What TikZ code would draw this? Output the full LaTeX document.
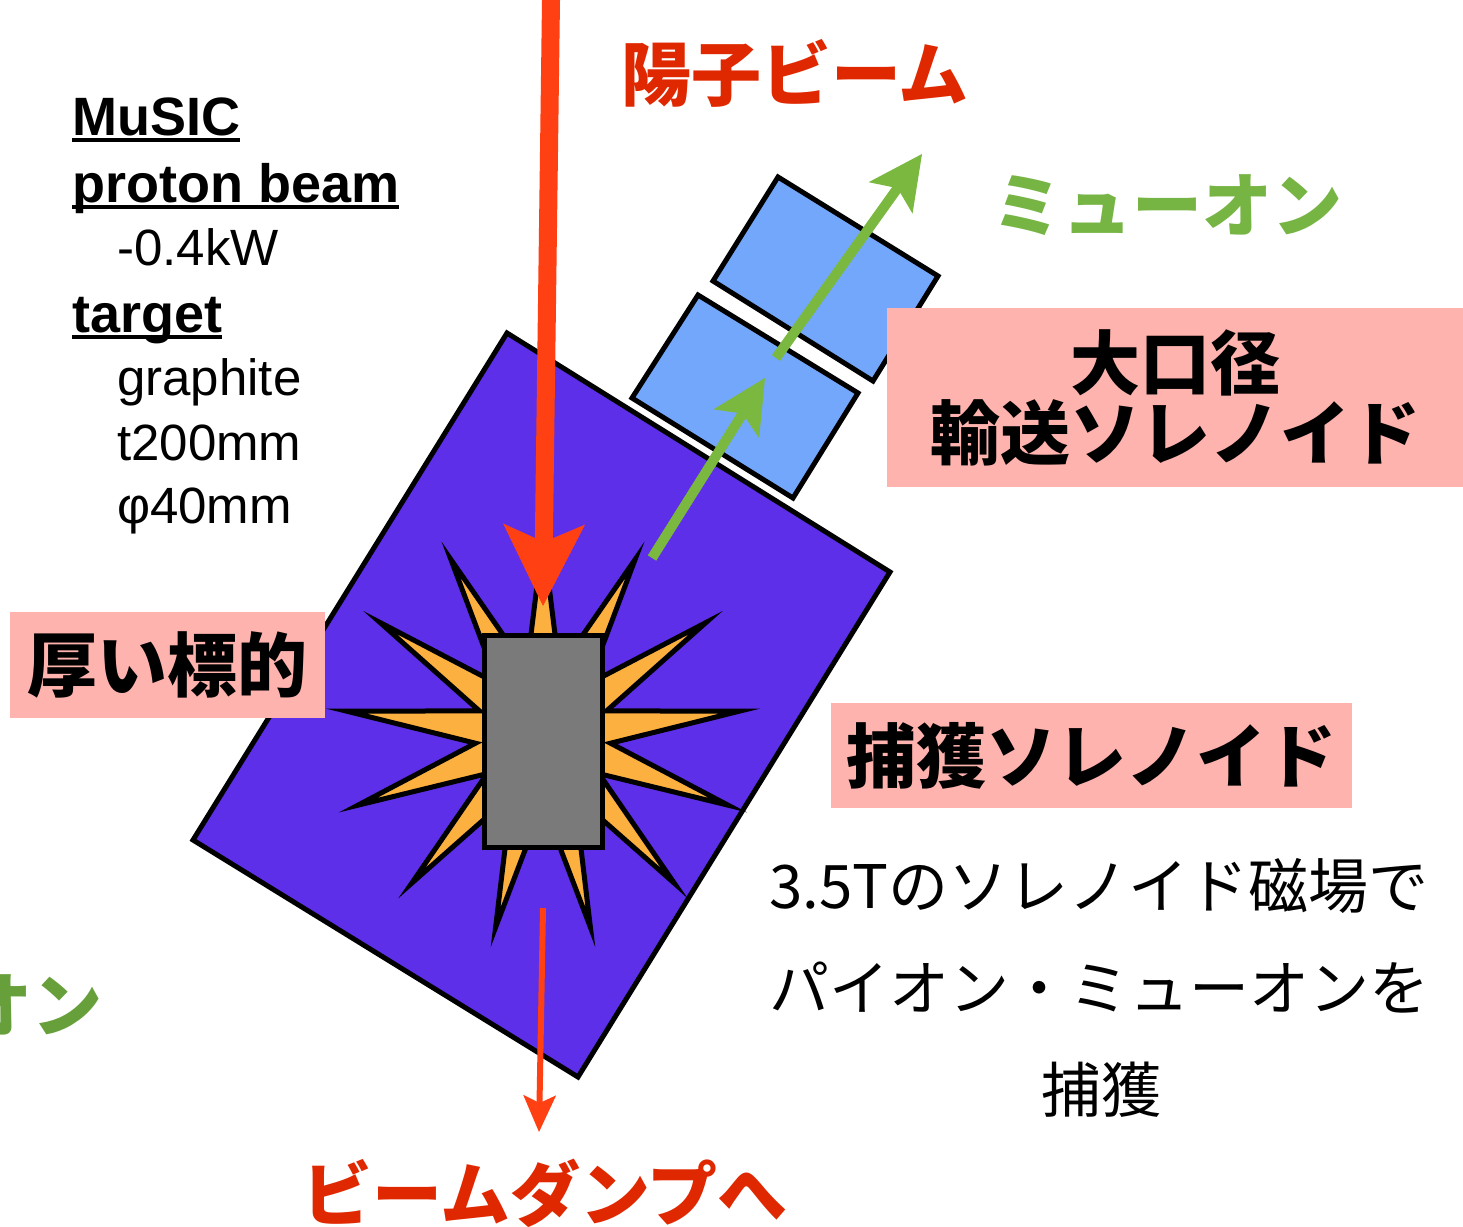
\documentclass[tikz,border=0pt]{standalone}
\usepackage{fontspec}
\usetikzlibrary{arrows.meta}
\newfontfamily\jpfont{Noto Sans CJK JP}
\newfontfamily\latinfont{Liberation Sans}
\definecolor{solpurple}{HTML}{5D2FE8}
\definecolor{solblue}{HTML}{73A7FB}
\definecolor{starorange}{HTML}{FBB03F}
\definecolor{targetgray}{HTML}{7A7A7A}
\definecolor{beamred}{HTML}{FF4013}
\definecolor{labelred}{HTML}{E02800}
\definecolor{muongreen}{HTML}{7AB83F}
\definecolor{muontext}{HTML}{76B443}
\definecolor{piontext}{HTML}{67A03A}
\definecolor{notepink}{HTML}{FFB3AE}
\tikzset{
  outline/.style={draw=black, line width=5pt, line join=miter},
  jpbold/.style={font=\jpfont\bfseries\fontsize{70}{70}\selectfont, inner sep=0pt, align=center},
  jplight/.style={font=\jpfont\fontsize{60}{60}\selectfont, inner sep=0pt},
  latinbold/.style={font=\latinfont\bfseries\fontsize{54}{54}\selectfont, inner sep=0pt, anchor=base west},
  latinlight/.style={font=\latinfont\fontsize{51}{51}\selectfont, inner sep=0pt, anchor=base west},
  pinkbox/.style={jpbold, fill=notepink},
  uline/.style={line width=3.5pt},
  beamarrow/.style={beamred, line width=18pt, -{Stealth[length=82pt, width=82pt, inset=18pt, line width=0pt]}},
  dumparrow/.style={beamred, line width=6pt, -{Stealth[length=37pt, width=33pt, inset=8pt, line width=0pt]}},
  muonarrow/.style={muongreen, line width=10pt, -{Stealth[length=54pt, width=54pt, inset=12pt, line width=0pt]}},
}
\begin{document}
\begin{tikzpicture}[x=1pt, y=-1pt]
\useasboundingbox (0,0) rectangle (1463,1226);
\clip (0,0) rectangle (1463,1226);
\fill[white] (0,0) rectangle (1463,1226);

% capture solenoid
\draw[outline, fill=solpurple] (507,333) -- (890,572) -- (578,1077) -- (193,840) -- cycle;

% transport solenoid sections
\draw[outline, fill=solblue] (698,295) -- (858,393) -- (793,498) -- (632,398) -- cycle;
\draw[outline, fill=solblue] (778,177) -- (938,276) -- (873,381) -- (713,281) -- cycle;

% secondary particle burst around the target
\begin{scope}[shift={(543,735)}]
  \draw[outline, fill=starorange] (-90:198)
    \foreach \k in {0,...,12} { -- ({-90+(\k+0.5)*360/13}:68) -- ({-90+(\k+1)*360/13}:198) } -- cycle;
\end{scope}

% graphite target
\node[name=target, draw=black, line width=5pt, fill=targetgray, minimum width=118pt, minimum height=212pt, inner sep=0pt] at (543.5,741.5) {};

% beams
\coordinate (beamtop) at (551,0);
\coordinate (beamtip) at (543,606);
\draw[beamarrow] (beamtop) -- (beamtip);

\coordinate (dumpstart) at (543,908);
\coordinate (dumptip) at (539,1132);
\draw[dumparrow] (dumpstart) -- (dumptip);

\coordinate (muAstart) at (652,558);
\coordinate (muAtip) at (765,378);
\draw[muonarrow] (muAstart) -- (muAtip);

\coordinate (muBstart) at (776,358);
\coordinate (muBtip) at (922,154);
\draw[muonarrow] (muBstart) -- (muBtip);

% labels
\node[jpbold, text=labelred] (protonlabel) at (795,73) {陽子ビーム};
\node[jpbold, text=muontext] (muonlabel) at (1167,205) {ミューオン};
\node[jpbold, text=piontext, anchor=east] (pionlabel) at (103,1005) {オン};
\node[jpbold, text=labelred] (dumplabel) at (545,1193) {ビームダンプへ};

\node[pinkbox, minimum width=576pt, minimum height=179pt] (transportbox) at (1175,397.5) {大口径\\輸送ソレノイド};
\node[pinkbox, minimum width=315pt, minimum height=106pt] (targetbox) at (167.5,665) {厚い標的};
\node[pinkbox, minimum width=521pt, minimum height=105pt] (capturebox) at (1091.5,755.5) {捕獲ソレノイド};

\node[jplight] (noteA) at (1099,886) {3.5Tのソレノイド磁場で};
\node[jplight] (noteB) at (1099,988) {パイオン・ミューオンを};
\node[jplight] (noteC) at (1101,1090) {捕獲};

% parameter list
\node[latinbold] (music) at (72,135) {MuSIC};
\draw[uline] ([yshift=-5pt]music.base west) -- ([yshift=-5pt]music.base east);
\node[latinbold] (beamhead) at (72,202) {proton beam};
\draw[uline] ([yshift=-5pt]beamhead.base west) -- ([yshift=-5pt]beamhead.base east);
\node[latinlight] (power) at (117,265) {-0.4kW};
\node[latinbold] (targethead) at (72,332) {target};
\draw[uline] ([yshift=-5pt]targethead.base west) -- ([yshift=-5pt]targethead.base east);
\node[latinlight] (material) at (117,395) {graphite};
\node[latinlight] (thickness) at (117,460) {t200mm};
\node[latinlight] (diameter) at (117,523) {φ40mm};
\end{tikzpicture}
\end{document}
